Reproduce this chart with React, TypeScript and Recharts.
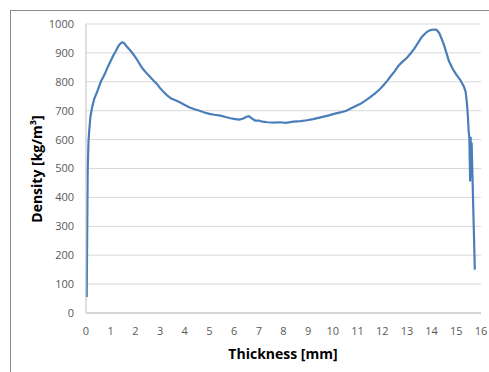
import { LineChart, Line, XAxis, YAxis, CartesianGrid } from "recharts";

// hand-read from the density profile
const thickness = [
  0.03, 0.05, 0.07, 0.1, 0.13, 0.18, 0.25, 0.33, 0.45, 0.6, 0.75, 0.9, 1.0, 1.1, 1.2, 1.3, 1.4, 1.48,
  1.55, 1.65, 1.78, 1.9, 2.0, 2.1, 2.2, 2.3, 2.45, 2.6, 2.75, 2.9, 3.0, 3.15, 3.3, 3.45, 3.6, 3.8,
  4.0, 4.2, 4.4, 4.6, 4.8, 5.0, 5.2, 5.45, 5.65, 5.85, 6.05, 6.2, 6.35, 6.5, 6.6, 6.7, 6.85, 7.0,
  7.15, 7.35, 7.6, 7.85, 8.1, 8.4, 8.7, 8.95, 9.2, 9.5, 9.8, 10.05, 10.3, 10.55, 10.8, 11.1, 11.3,
  11.5, 11.7, 11.9, 12.05, 12.2, 12.35, 12.5, 12.65, 12.8, 13.0, 13.15, 13.3, 13.45, 13.6, 13.8,
  13.95, 14.1, 14.2, 14.3, 14.4, 14.5, 14.6, 14.7, 14.85, 15.0, 15.15, 15.3, 15.38, 15.43, 15.47,
  15.5, 15.53, 15.56, 15.58, 15.6, 15.62, 15.75,
];
const density = [
  55, 300, 500, 590, 630, 680, 712, 740, 765, 800, 825, 855, 872, 890, 905, 922, 933, 937,
  933, 922, 910, 897, 885, 872, 858, 845, 830, 817, 803, 790, 778, 765, 752, 742, 737, 729,
  720, 711, 705, 700, 694, 689, 686, 683, 678, 674, 671, 669, 672, 679, 681, 674, 666, 666,
  662, 660, 659, 660, 658, 662, 664, 667, 671, 677, 683, 689, 694, 700, 711, 723, 734,
  746, 759, 774, 788, 803, 820, 836, 855, 868, 883, 898, 915, 935, 955, 972,
  979, 981, 980, 970, 950, 928, 900, 872, 845, 825, 808, 785, 765, 725, 680,
  630, 605, 455, 610, 470, 590, 150,
];
const xTicks = [0, 1, 2, 3, 4, 5, 6, 7, 8, 9, 10, 11, 12, 13, 14, 15, 16];
const yTicks = [0, 100, 200, 300, 400, 500, 600, 700, 800, 900, 1000];

const data = thickness.map((t, i) => ({ t, d: density[i] }));

const FONT = "'Open Sans', sans-serif";

export default function App() {
  return (
    <div style={{ position: "absolute", left: 0, top: 0, width: 489, height: 372, overflow: "hidden", background: "#fff" }}>
      <div
        style={{
          position: "absolute", left: 10, top: 10, width: 520, height: 420,
          borderLeft: "1px solid #8e8e8e", borderTop: "1px solid #8e8e8e",
        }}
      />
      <LineChart
        width={489}
        height={372}
        data={data}
        margin={{ top: 24, right: 8, left: 0, bottom: 0 }}
        style={{ position: "absolute", left: 0, top: 0, fontFamily: FONT }}
      >
        <CartesianGrid stroke="#d9d9d9" vertical={false} />
        <XAxis
          dataKey="t"
          type="number"
          domain={[0, 16]}
          ticks={xTicks}
          interval={0}
          height={59}
          tickSize={0}
          tickMargin={14}
          axisLine={{ stroke: "#bfbfbf" }}
          tickLine={false}
          tick={{ fill: "#595959", fontSize: 11 }}
          label={() => (
            <text x={283} y={359} textAnchor="middle" fontWeight="bold" fontSize={14} fill="#000" fontFamily={FONT}>
              Thickness [mm]
            </text>
          )}
        />
        <YAxis
          type="number"
          domain={[0, 1000]}
          ticks={yTicks}
          interval={0}
          width={86}
          tickSize={0}
          tickMargin={12}
          axisLine={{ stroke: "#bfbfbf" }}
          tickLine={false}
          tick={{ fill: "#595959", fontSize: 11 }}
          label={() => (
            <text
              x={42}
              y={169}
              transform="rotate(-90 42 169)"
              textAnchor="middle"
              fontWeight="bold"
              fontSize={14}
              fill="#000"
              fontFamily={FONT}
            >
              Density [kg/m³]
            </text>
          )}
        />
        <Line
          dataKey="d"
          type="linear"
          stroke="#4a7ebb"
          strokeWidth={2.2}
          dot={false}
          isAnimationActive={false}
        />
      </LineChart>
    </div>
  );
}
